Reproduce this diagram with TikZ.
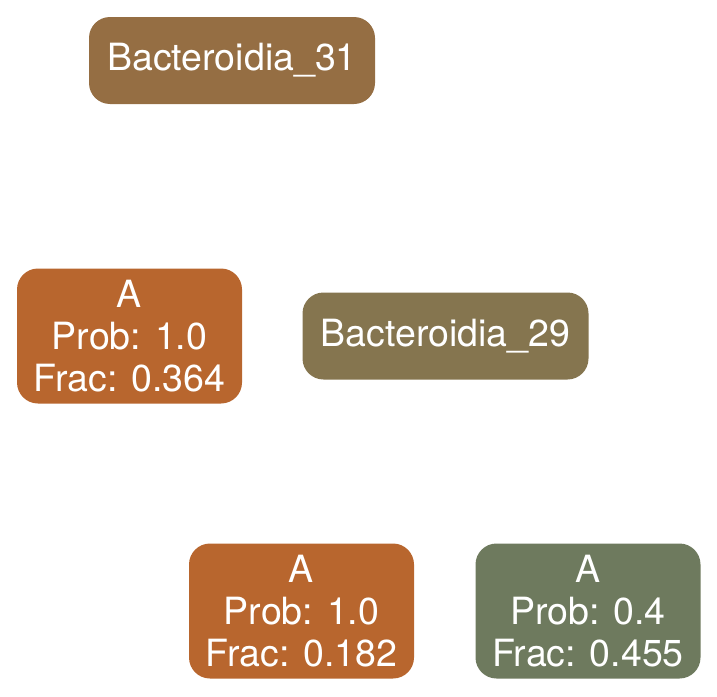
\documentclass[tikz,border=0pt]{standalone}
\usepackage{fontspec}
\setmainfont{TeX Gyre Heros}
\definecolor{cBrownA}{HTML}{956E43}
\definecolor{cOrange}{HTML}{B8662E}
\definecolor{cOlive}{HTML}{85754F}
\definecolor{cGreen}{HTML}{6E7A5E}
\tikzset{
  box/.style={rectangle, rounded corners=21pt, draw=none, text=white, align=center,
    inner sep=0pt, font=\fontsize{37.5}{42}\selectfont},
  taxbox/.style={box, minimum width=286pt, minimum height=87pt},
  leafbox/.style={box, minimum width=225pt, minimum height=135pt},
}
\begin{document}
\begin{tikzpicture}[x=1pt, y=-1pt]
\useasboundingbox (0,0) rectangle (717,696);
\node[taxbox, fill=cBrownA] (b31) at (232,60.5) {Bacteroidia\_31};
\node[leafbox, fill=cOrange] (a1) at (129.5,336) {A\\Prob: 1.0\\Frac: 0.364};
\node[taxbox, fill=cOlive] (b29) at (445.5,336) {Bacteroidia\_29};
\node[leafbox, fill=cOrange] (a2) at (301.5,611) {A\\Prob: 1.0\\Frac: 0.182};
\node[leafbox, fill=cGreen] (a3) at (588,611) {A\\Prob: 0.4\\Frac: 0.455};
\end{tikzpicture}
\end{document}
